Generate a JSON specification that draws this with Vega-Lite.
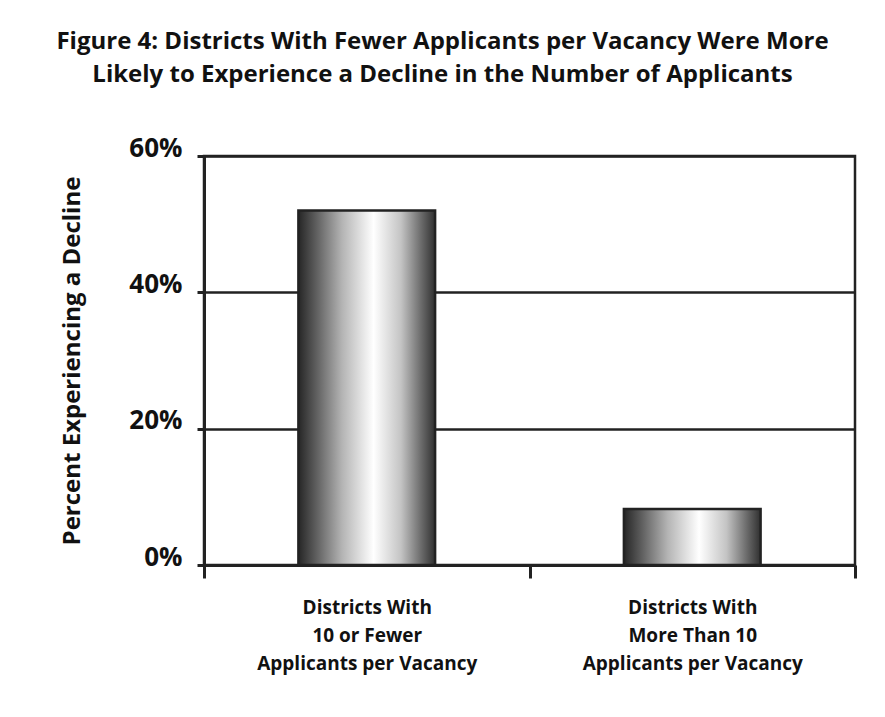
{
  "$schema": "https://vega.github.io/schema/vega-lite/v6.json",
  "autosize": {"type": "none"},
  "padding": {"left": 204, "top": 156, "right": 30, "bottom": 152},
  "width": 651,
  "height": 409,
  "background": "white",
  "title": {
    "text": ["Figure 4: Districts With Fewer Applicants per Vacancy Were More", "Likely to Experience a Decline in the Number of Applicants"],
    "font": "Open Sans",
    "fontSize": 24,
    "fontWeight": "bold",
    "color": "#111111",
    "anchor": "middle",
    "frame": "group",
    "dx": -87,
    "offset": 48,
    "lineHeight": 33
  },
  "data": {
    "values": [
      {"group": "Districts With|10 or Fewer|Applicants per Vacancy", "pct": 0.52},
      {"group": "Districts With|More Than 10|Applicants per Vacancy", "pct": 0.082}
    ]
  },
  "mark": {
    "type": "bar",
    "width": {"band": 0.42},
    "stroke": "#222222",
    "strokeWidth": 2.5,
    "color": {
      "gradient": "linear",
      "x1": 0, "y1": 0, "x2": 1, "y2": 0,
      "stops": [
        {"offset": 0, "color": "#262626"},
        {"offset": 0.12, "color": "#5a5a5a"},
        {"offset": 0.32, "color": "#b4b4b4"},
        {"offset": 0.55, "color": "#ffffff"},
        {"offset": 0.75, "color": "#c4c4c4"},
        {"offset": 0.9, "color": "#6a6a6a"},
        {"offset": 1, "color": "#303030"}
      ]
    }
  },
  "encoding": {
    "x": {
      "field": "group",
      "type": "nominal",
      "sort": null,
      "scale": {"paddingInner": 0, "paddingOuter": 0},
      "axis": {
        "title": null,
        "labelAngle": 0,
        "labelExpr": "datum.value ? split(datum.value, '|') : ''",
        "labelFont": "Open Sans",
        "labelFontSize": 19,
        "labelFontWeight": "bold",
        "labelColor": "#111111",
        "labelLineHeight": 28,
        "labelPadding": 20,
        "labelBaseline": "top",
        "labelLimit": 0,
        "tickBand": "extent",
        "tickSize": 13,
        "tickWidth": 3,
        "tickColor": "#222222",
        "domainColor": "#222222",
        "domainWidth": 3,
        "grid": false
      }
    },
    "y": {
      "field": "pct",
      "type": "quantitative",
      "scale": {"domain": [0, 0.6], "nice": false},
      "axis": {
        "title": "Percent Experiencing a Decline",
        "titleFont": "Open Sans",
        "titleFontSize": 24,
        "titleFontWeight": "bold",
        "titleColor": "#111111",
        "titlePadding": 44,
        "values": [0, 0.2, 0.4, 0.6],
        "format": ".0%",
        "labelFont": "Open Sans",
        "labelFontSize": 26,
        "labelFontWeight": "bold",
        "labelColor": "#111111",
        "labelBaseline": "alphabetic",
        "labelPadding": 15,
        "tickSize": 7,
        "tickWidth": 3,
        "tickColor": "#222222",
        "domainColor": "#222222",
        "domainWidth": 3,
        "grid": true,
        "gridColor": "#222222",
        "gridWidth": 2.5,
        "gridOpacity": 1
      }
    }
  },
  "config": {
    "view": {"stroke": "#222222", "strokeWidth": 2.5}
  }
}
